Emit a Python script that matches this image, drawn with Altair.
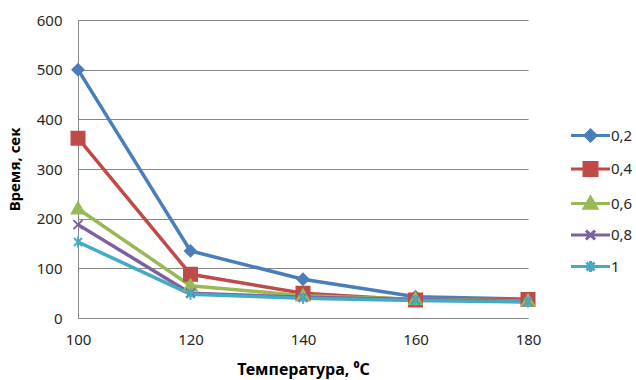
import altair as alt
import pandas as pd

temps = [100, 120, 140, 160, 180]
series = ["0,2", "0,4", "0,6", "0,8", "1"]
v02 = [500, 135, 78, 43, 38]
v04 = [362, 88, 50, 36, 37]
v06 = [220, 65, 45, 38, 34]
v08 = [188, 50, 42, 37, 33]
v10 = [153, 48, 40, 35, 32]
colors = ["#4A7EBB", "#BE4B48", "#98B954", "#7D60A0", "#46AAC5"]

marker_paths = [
    "M-1.1,0L0,-1.1L1.1,0L0,1.1Z",
    "M-1.3,-1.3H1.3V1.3H-1.3Z",
    "M0,-1.25L1.25,0.95L-1.25,0.95Z",
    "M-0.9,-0.9L0.9,0.9M-0.9,0.9L0.9,-0.9",
    "M-0.8,-0.8L0.8,0.8M-0.8,0.8L0.8,-0.8M0,-1.1L0,1.1",
]
line_seg = "M-3.9,0L3.9,0"
legend_paths = [line_seg + p for p in marker_paths]

rows = []
for name, vals in zip(series, [v02, v04, v06, v08, v10]):
    for t, v in zip(temps, vals):
        rows.append({"t": t, "v": v, "s": name})
df = pd.DataFrame(rows)

FONT = "Noto Sans"
x = alt.X("t:Q", scale=alt.Scale(domain=[100, 180], nice=False),
          axis=alt.Axis(values=temps, title="Температура, ⁰С", grid=False,
                        ticks=False, labelFlush=False, labelPadding=14, titlePadding=14,
                        titleFontSize=16))
y = alt.Y("v:Q", scale=alt.Scale(domain=[0, 600], nice=False),
          axis=alt.Axis(values=[0, 100, 200, 300, 400, 500, 600], title="Время, сек",
                        grid=True, ticks=False, labelPadding=16, titlePadding=14))


def sc(rng):
    return alt.Scale(domain=series, range=rng)


base = alt.Chart(df)
lines = base.mark_line(strokeWidth=3.5).encode(
    x=x, y=y, stroke=alt.Stroke("s:N", scale=sc(colors), legend=None))
points = base.mark_point(filled=True, size=100, strokeWidth=2, opacity=1).encode(
    x=x, y=y,
    stroke=alt.Stroke("s:N", scale=sc(colors), legend=None),
    fill=alt.Fill("s:N", scale=sc(colors), legend=None),
    shape=alt.Shape("s:N", scale=sc(marker_paths), legend=None))

leg = alt.Legend(title=None, orient="none", legendX=505, legendY=108,
                 symbolSize=100, symbolStrokeWidth=3, symbolOpacity=1,
                 labelOffset=13, rowPadding=9.5, labelFontSize=15, labelFont=FONT,
                 labelColor="#262626")
legend_layer = base.mark_point(filled=True, size=100, opacity=0).encode(
    x=x, y=y,
    stroke=alt.Stroke("s:N", scale=sc(colors), legend=leg),
    fill=alt.Fill("s:N", scale=sc(colors), legend=leg),
    shape=alt.Shape("s:N", scale=sc(legend_paths), legend=leg))

chart = alt.layer(lines, points, legend_layer).resolve_scale(
    shape="independent", stroke="independent", fill="independent"
).properties(
    width=450, height=298,
    autosize=alt.AutoSizeParams(type="none"),
    padding={"left": 78, "top": 20, "right": 108, "bottom": 62},
    background="white",
).configure_view(stroke=None).configure_axis(
    labelFont=FONT, labelFontSize=15, labelColor="#262626",
    titleFont=FONT, titleFontSize=15, titleFontWeight="bold", titleColor="#000000",
    gridColor="#868686", gridWidth=1, domainColor="#868686", domainWidth=1,
)

chart.save("out.html", embed_options={"renderer": "svg", "actions": False})
